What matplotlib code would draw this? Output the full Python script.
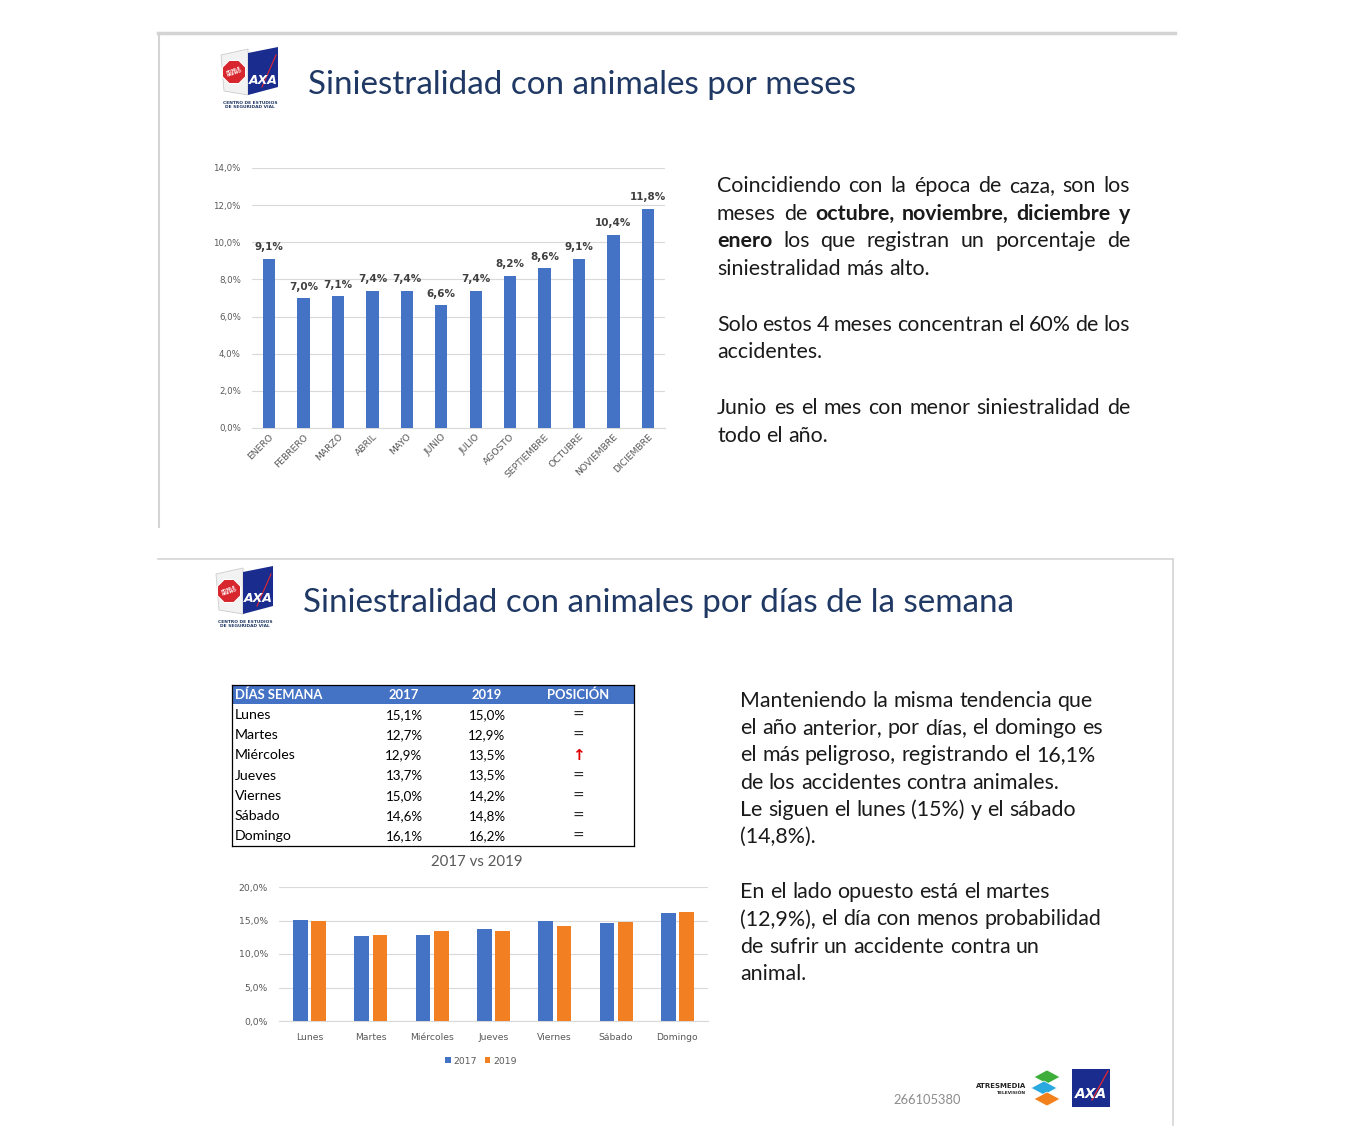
import matplotlib
matplotlib.use('Agg')
import matplotlib.pyplot as plt
import matplotlib.patches as mpatches
import numpy as np

W, H = 1354, 1144

months = ['ENERO', 'FEBRERO', 'MARZO', 'ABRIL', 'MAYO', 'JUNIO', 'JULIO',
          'AGOSTO', 'SEPTIEMBRE', 'OCTUBRE', 'NOVIEMBRE', 'DICIEMBRE']
month_pct = [9.1, 7.0, 7.1, 7.4, 7.4, 6.6, 7.4, 8.2, 8.6, 9.1, 10.4, 11.8]

days = ['Lunes', 'Martes', 'Miércoles', 'Jueves', 'Viernes', 'Sábado', 'Domingo']
pct_2017 = [15.1, 12.7, 12.9, 13.7, 15.0, 14.6, 16.1]
pct_2019 = [15.0, 12.9, 13.5, 13.5, 14.2, 14.8, 16.2]
position = ['=', '=', '↑', '=', '=', '=', '=']
table_head = ['DÍAS SEMANA', '2017', '2019', 'POSICIÓN']

title1 = 'Siniestralidad con animales por meses'
title2 = 'Siniestralidad con animales por días de la semana'

# (text, bold) words per line, justify flag
text1 = [
    ([('Coincidiendo con la época de caza, son los', False)], True),
    ([('meses de', False), ('octubre, noviembre, diciembre y', True)], True),
    ([('enero', True), ('los que registran un porcentaje de', False)], True),
    ([('siniestralidad más alto.', False)], False),
    None,
    ([('Solo estos 4 meses concentran el 60% de los', False)], True),
    ([('accidentes.', False)], False),
    None,
    ([('Junio es el mes con menor siniestralidad de', False)], True),
    ([('todo el año.', False)], False),
]
text2 = [
    'Manteniendo la misma tendencia que',
    'el año anterior, por días, el domingo es',
    'el más peligroso, registrando el 16,1%',
    'de los accidentes contra animales.',
    'Le siguen el lunes (15%) y el sábado',
    '(14,8%).',
    None,
    'En el lado opuesto está el martes',
    '(12,9%), el día con menos probabilidad',
    'de sufrir un accidente contra un',
    'animal.',
]

BLUE = '#4472C4'
ORANGE = '#F27F22'
NAVY = '#1F3864'
BODY_FONT = 'Lato'

fig = plt.figure(figsize=(W / 100, H / 100), dpi=100)
fig.patch.set_facecolor('white')


def ax_px(l, t, r, b):
    return fig.add_axes([l / W, 1 - b / H, (r - l) / W, (b - t) / H])


bg = ax_px(0, 0, W, H)
bg.set_xlim(0, W)
bg.set_ylim(H, 0)
bg.axis('off')

# slide frames
bg.plot([158, 1175], [33, 33], color='#D4D4D4', lw=2.5)
bg.plot([159, 159], [33, 527], color='#D4D4D4', lw=1.5)
bg.plot([158, 1173], [559, 559], color='#D4D4D4', lw=1.2)
bg.plot([1173, 1173], [559, 1125], color='#D4D4D4', lw=1.2)


def draw_logo(ox, oy):
    bg.add_patch(mpatches.Polygon([(ox + 1, oy + 8), (ox + 28, oy + 2), (ox + 28, oy + 48),
                                   (ox + 4, oy + 44)], closed=True, fc='#F2F2F2', ec='#CCCCCC', lw=0.6))
    bg.add_patch(mpatches.RegularPolygon((ox + 14, oy + 25), 8, radius=12.5,
                                         orientation=np.pi / 8, fc='#D7262E', ec='white', lw=0.8))
    bg.text(ox + 14, oy + 25, 'PONLE\nFRENO', color='white', fontsize=3, fontweight='bold',
            ha='center', va='center', rotation=20, linespacing=0.9)
    bg.add_patch(mpatches.Polygon([(ox + 28, oy + 6), (ox + 58, oy + 0), (ox + 58, oy + 40),
                                   (ox + 28, oy + 48)], closed=True, fc='#1B2C8F', ec='none'))
    bg.plot([ox + 42, ox + 56], [oy + 40, oy + 8], color='#E3262F', lw=0.8)
    bg.text(ox + 43, oy + 33, 'AXA', color='white', fontsize=9, fontweight='bold',
            ha='center', va='center', style='italic', family='DejaVu Sans')
    bg.text(ox + 30, oy + 58, 'CENTRO DE ESTUDIOS\nDE SEGURIDAD VIAL', color=NAVY, fontsize=3.2,
            fontweight='bold', ha='center', va='center', linespacing=1.0)


draw_logo(220, 47)
draw_logo(215, 566)

bg.text(308, 85, title1, fontsize=23.9, color=NAVY, family=BODY_FONT, va='center', ha='left')
bg.text(303, 603, title2, fontsize=23.9, color=NAVY, family=BODY_FONT, va='center', ha='left')

renderer = fig.canvas.get_renderer()


def measure(s, bold, size):
    t = bg.text(0, 0, s, fontsize=size, family=BODY_FONT,
                fontweight='bold' if bold else 'normal')
    w = t.get_window_extent(renderer).width
    t.remove()
    return w


def put_line(x, y, chunks, size, width=None, color='#1A1A1A'):
    words = []
    for s, b in chunks:
        for w in s.split(' '):
            words.append((w, b))
    widths = [measure(w, b, size) for w, b in words]
    space = measure('a a', False, size) - measure('aa', False, size)
    if width is not None and len(words) > 1:
        gap = (width - sum(widths)) / (len(words) - 1)
    else:
        gap = space
    cx = x
    for (w, b), wd in zip(words, widths):
        bg.text(cx, y, w, fontsize=size, family=BODY_FONT, color=color,
                fontweight='bold' if b else 'normal', va='center', ha='left')
        cx += wd + gap


y = 186
for item in text1:
    if item is None:
        y += 28
        continue
    chunks, just = item
    put_line(717, y, chunks, 15.4, width=413 if just else None)
    y += 27.7

y = 701
for line in text2:
    if line is None:
        y += 28
        continue
    put_line(740, y, [(line, False)], 15.4)
    y += 27.2

# ---- chart 1: months
ax1 = ax_px(252, 168, 665, 428)
x = np.arange(len(months))
ax1.bar(x, month_pct, width=0.36, color=BLUE, zorder=3)
ax1.set_xlim(-0.5, len(months) - 0.5)
ax1.set_ylim(0, 14)
ax1.set_yticks(np.arange(0, 14.1, 2))
ax1.set_yticklabels([f'{v:.1f}%'.replace('.', ',') for v in np.arange(0, 14.1, 2)])
ax1.grid(axis='y', color='#D9D9D9', lw=0.8, zorder=0)
for s in ['top', 'right', 'left']:
    ax1.spines[s].set_visible(False)
ax1.spines['bottom'].set_color('#D9D9D9')
ax1.tick_params(axis='both', length=0, labelsize=6.2, colors='#595959', pad=8)
ax1.set_xticks(x)
ax1.set_xticklabels(months, rotation=45, ha='right', va='top', rotation_mode='anchor')
ax1.tick_params(axis='x', pad=3, labelsize=6.7)
for xi, v in zip(x, month_pct):
    ax1.text(xi, v + 0.35, f'{v:.1f}%'.replace('.', ','), ha='center', va='bottom',
             fontsize=7.5, fontweight='bold', color='#404040')

# ---- table
axt = ax_px(232, 685, 634, 846)
axt.set_xlim(0, 402)
axt.set_ylim(8, 0)
axt.set_xticks([])
axt.set_yticks([])
for s in axt.spines.values():
    s.set_color('black')
    s.set_linewidth(0.9)
axt.add_patch(mpatches.Rectangle((0, 0), 402, 0.95, fc=BLUE, ec='none'))
col_x = [3, 172, 255, 346]
col_ha = ['left', 'center', 'center', 'center']
for cx, ha, h in zip(col_x, col_ha, table_head):
    axt.text(cx, 0.5, h, ha=ha, va='center', color='white', fontweight='bold',
             fontsize=9.4, family=BODY_FONT)
for i in range(len(days)):
    r = i + 1.5
    vals = [days[i], f'{pct_2017[i]:.1f}%'.replace('.', ','),
            f'{pct_2019[i]:.1f}%'.replace('.', ','), position[i]]
    for j, (cx, ha, v) in enumerate(zip(col_x, col_ha, vals)):
        if j == 3 and v == '↑':
            axt.text(cx, r, v, ha=ha, va='center', color='#E00000', fontweight='bold',
                     fontsize=11, family='DejaVu Sans')
        elif j == 3:
            axt.text(cx, r, v, ha=ha, va='center', color='#222222',
                     fontsize=10, family='DejaVu Sans')
        else:
            axt.text(cx, r, v, ha=ha, va='center', color='black',
                     fontsize=10.2 if j == 0 else 9.6, family=BODY_FONT)

# ---- chart 2: days
ax2 = ax_px(279, 887, 708, 1021)
xd = np.arange(len(days))
bw = 0.24
ax2.bar(xd - 0.15, pct_2017, width=bw, color=BLUE, label='2017', zorder=3)
ax2.bar(xd + 0.15, pct_2019, width=bw, color=ORANGE, label='2019', zorder=3)
ax2.set_xlim(-0.5, len(days) - 0.5)
ax2.set_ylim(0, 20)
ax2.set_yticks(np.arange(0, 20.1, 5))
ax2.set_yticklabels([f'{v:.1f}%'.replace('.', ',') for v in np.arange(0, 20.1, 5)])
ax2.grid(axis='y', color='#D9D9D9', lw=0.8, zorder=0)
for s in ['top', 'right', 'left']:
    ax2.spines[s].set_visible(False)
ax2.spines['bottom'].set_color('#D9D9D9')
ax2.set_xticks(xd)
ax2.set_xticklabels(days)
ax2.tick_params(axis='both', length=0, labelsize=6.7, colors='#595959', pad=8)
ax2.tick_params(axis='x', pad=9)
bg.text(477, 862, '2017 vs 2019', ha='center', va='center', fontsize=10.8,
        color='#595959', family=BODY_FONT)
ax2.legend(loc='center', bbox_to_anchor=(481 / W, 1 - 1061 / H), bbox_transform=fig.transFigure,
           ncol=2, frameon=False, fontsize=6.7, handlelength=0.6, handleheight=0.6,
           handletextpad=0.3, columnspacing=0.8, labelcolor='#595959')

# ---- footer
bg.text(893, 1100, '266105380', fontsize=9.3, color='#8C8C8C', family=BODY_FONT, va='center')
bg.text(1026, 1086, 'ATRESMEDIA', fontsize=5, fontweight='bold', color='#222222',
        ha='right', va='center', family='DejaVu Sans')
bg.text(1026, 1093, 'TELEVISIÓN', fontsize=3.2, fontweight='bold', color='#222222',
        ha='right', va='center', family='DejaVu Sans')
for (cx, cy), c in zip([(1047, 1077), (1044, 1088), (1047, 1099)],
                       ['#3DAE3A', '#2AA8E0', '#F2801C']):
    bg.add_patch(mpatches.Polygon([(cx - 13, cy), (cx, cy - 7), (cx + 13, cy), (cx, cy + 7)],
                                  closed=True, fc=c, ec='white', lw=0.5))
bg.add_patch(mpatches.Rectangle((1072, 1069), 38, 38, fc='#1B2C8F', ec='none'))
bg.plot([1092, 1108], [1100, 1071], color='#E3262F', lw=0.9)
bg.text(1091, 1094, 'AXA', color='white', fontsize=10, fontweight='bold', style='italic',
        ha='center', va='center', family='DejaVu Sans')

fig.savefig('out.png', dpi=100, facecolor='white')
